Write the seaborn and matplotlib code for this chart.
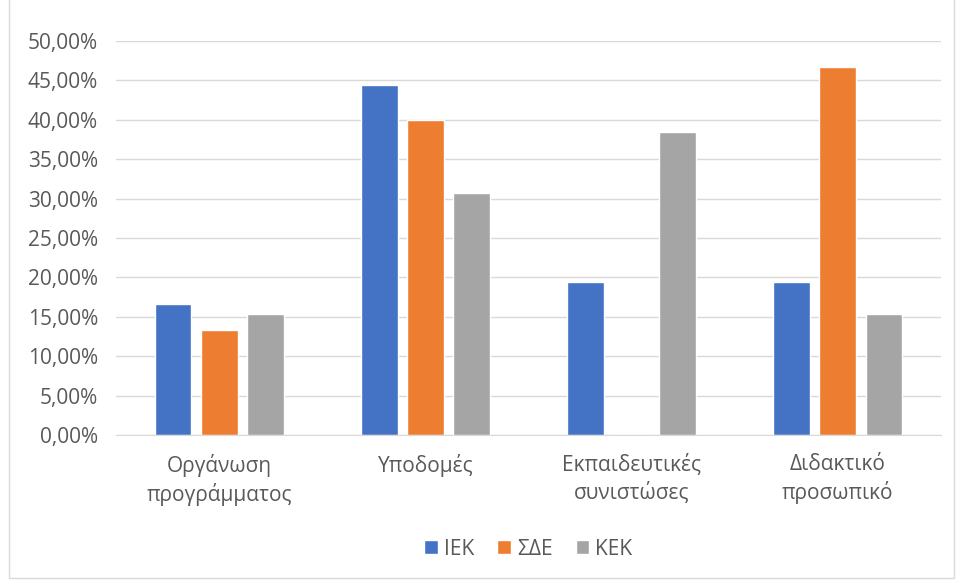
import matplotlib
matplotlib.use('Agg')
import matplotlib.pyplot as plt
import matplotlib.ticker as mticker
from matplotlib.patches import Rectangle
import pandas as pd
import seaborn as sns

# data
categories = ['Οργάνωση\nπρογράμματος', 'Υποδομές', 'Εκπαιδευτικές\nσυνιστώσες', 'Διδακτικό\nπροσωπικό']
groups = ['ΙΕΚ', 'ΣΔΕ', 'ΚΕΚ']
iek = [16.67, 44.44, 19.44, 19.44]
sde = [13.33, 40.00, 0.00, 46.67]
kek = [15.38, 30.77, 38.46, 15.38]
colors = ['#4472C4', '#ED7D31', '#A5A5A5']

df = pd.DataFrame({
    'cat': categories * 3,
    'group': [g for g in groups for _ in categories],
    'value': iek + sde + kek,
})

sns.set_style('white')
plt.rcParams['font.family'] = ['Open Sans', 'DejaVu Sans']

fig = plt.figure(figsize=(9.59, 5.81), dpi=100)
ax = fig.add_axes([116 / 959, 1 - 435 / 581, 825 / 959, 394 / 581])

sns.barplot(data=df, x='cat', y='value', hue='group', order=categories,
            hue_order=groups, palette=colors, width=0.67, gap=0.2,
            saturation=1, ax=ax, legend=True)

ax.set_ylim(0, 50)
ax.set_xlim(-0.5, 3.5)
ax.yaxis.set_major_locator(mticker.MultipleLocator(5))
ax.yaxis.set_major_formatter(mticker.FuncFormatter(lambda v, p: f'{v:.2f}%'.replace('.', ',')))
ax.grid(axis='y', color='#D9D9D9', linewidth=1)
ax.set_axisbelow(True)
for s in ['top', 'right', 'left']:
    ax.spines[s].set_visible(False)
ax.spines['bottom'].set_color('#D9D9D9')
ax.tick_params(axis='both', length=0, colors='#595959', labelsize=15)
ax.tick_params(axis='x', pad=14)
ax.tick_params(axis='y', pad=13)
for lbl in ax.get_xticklabels():
    lbl.set_linespacing(1.3)
ax.set_xlabel('')
ax.set_ylabel('')

leg = ax.legend(loc='center', bbox_to_anchor=(0.5, -0.29), ncol=3, frameon=False,
                fontsize=15, handlelength=0.65, handleheight=0.65,
                handletextpad=0.3, columnspacing=1.1)
for t in leg.get_texts():
    t.set_color('#595959')

# chart border
fig.patches.append(Rectangle((9 / 959, 3 / 581), 945 / 959, 580 / 581,
                             transform=fig.transFigure, fill=False,
                             edgecolor='#D9D9D9', linewidth=1))

fig.savefig('out.png', dpi=100)
